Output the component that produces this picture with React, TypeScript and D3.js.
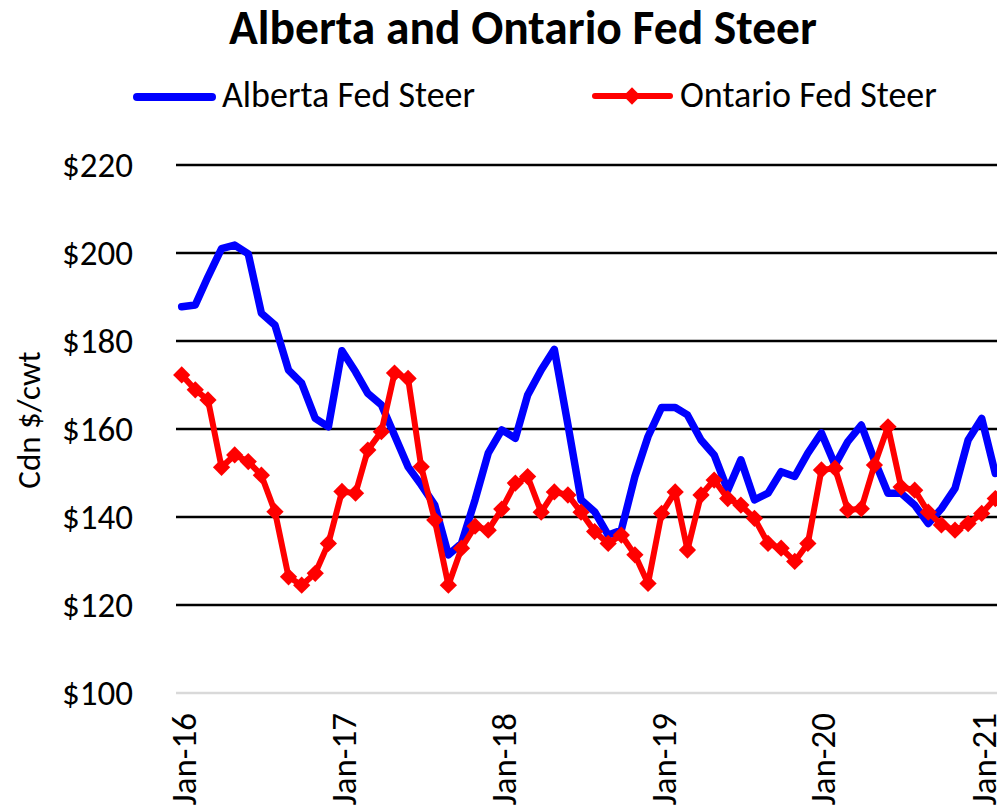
import React, { useEffect, useRef } from 'react';
import * as d3 from 'd3';

// monthly, Jan-16 .. Feb-21
const months: Date[] = d3.timeMonth.range(new Date(2016, 0, 1), new Date(2021, 2, 1));

const albertaFedSteer: number[] = [
    187.8, 188.2, 194.6, 201.0, 201.8, 199.8, 186.3, 183.6, 173.4, 170.4, 162.4, 160.5,
    177.8, 173.0, 168.1, 165.5, 158.6, 151.4, 147.3, 142.7, 131.4, 134.0, 143.9, 154.5,
    159.8, 157.9, 167.7, 173.4, 178.1, 161.0, 143.9, 141.2, 135.9, 137.0, 149.2, 158.3,
    164.9, 164.9, 163.2, 157.5, 154.1, 146.1, 153.0, 143.9, 145.4, 150.3, 149.2, 154.5,
    159.1, 151.8, 157.1, 160.9, 152.9, 145.4, 145.4, 142.7, 138.5, 141.9, 146.5, 157.5,
    162.4, 149.9,
];

const ontarioFedSteer: number[] = [
    172.3, 168.9, 166.6, 151.3, 154.1, 152.6, 149.5, 141.2, 126.4, 124.5, 127.2, 134.0,
    145.8, 145.4, 155.2, 159.4, 172.7, 171.5, 151.4, 139.3, 124.5, 132.9, 137.9, 137.0,
    141.8, 147.7, 149.2, 141.1, 145.7, 145.0, 141.1, 136.7, 134.0, 135.9, 131.4, 124.9,
    140.8, 145.7, 132.5, 145.0, 148.4, 144.2, 142.7, 139.7, 134.0, 132.9, 129.9, 134.0,
    150.7, 151.1, 141.6, 141.9, 151.8, 160.5, 146.8, 146.1, 141.1, 138.2, 137.0, 138.5,
    140.8, 144.2,
];

const yTicks: number[] = [100, 120, 140, 160, 180, 200, 220];
const xTicks: Date[] = [2016, 2017, 2018, 2019, 2020, 2021].map((yr) => new Date(yr, 0, 1));

const FONT = "Carlito, Calibri, 'Open Sans', sans-serif";

const App: React.FC = () => {
    const svgRef = useRef<SVGSVGElement>(null);

    useEffect(() => {
        if (!svgRef.current) return;
        const width = 997;
        const height = 809;
        const left = 176;

        const svg = d3.select(svgRef.current);
        svg.selectAll('*').remove();

        const x = d3.scaleTime()
            .domain([new Date(2016, 0, 1), new Date(2021, 0, 1)])
            .range([181.7, 981.7]);
        const y = d3.scaleLinear().domain([100, 220]).range([693, 165]);

        // title
        svg.append('text')
            .attr('x', 523)
            .attr('y', 44)
            .attr('text-anchor', 'middle')
            .style('font-family', FONT)
            .style('font-size', '47.5px')
            .style('font-weight', '700')
            .text('Alberta and Ontario Fed Steer');

        // gridlines
        svg.append('g')
            .selectAll('line')
            .data(yTicks)
            .enter()
            .append('line')
            .attr('x1', left)
            .attr('x2', width)
            .attr('y1', (d) => y(d))
            .attr('y2', (d) => y(d))
            .style('stroke', (d) => (d === 100 ? '#d9d9d9' : '#000'))
            .style('stroke-width', 2.5);

        // y labels
        svg.append('g')
            .selectAll('text')
            .data(yTicks)
            .enter()
            .append('text')
            .attr('x', 133)
            .attr('y', (d) => y(d))
            .attr('dy', '0.34em')
            .attr('text-anchor', 'end')
            .style('font-family', FONT)
            .style('font-size', '35px')
            .text((d) => `$${d}`);

        svg.append('text')
            .attr('transform', 'translate(40, 420) rotate(-90)')
            .attr('text-anchor', 'middle')
            .style('font-family', FONT)
            .style('font-size', '33px')
            .text('Cdn $/cwt');

        // x labels
        const fmt = d3.timeFormat('%b-%y');
        svg.append('g')
            .selectAll('text')
            .data(xTicks)
            .enter()
            .append('text')
            .attr('transform', (d) => `translate(${x(d) + 2}, 713) rotate(-90)`)
            .attr('dy', '0.34em')
            .attr('text-anchor', 'end')
            .style('font-family', FONT)
            .style('font-size', '35px')
            .text((d) => fmt(d));

        const line = d3.line<number>()
            .x((_d, i) => x(months[i]))
            .y((d) => y(d));

        svg.append('path')
            .datum(albertaFedSteer)
            .attr('d', line)
            .style('fill', 'none')
            .style('stroke', '#0000ff')
            .style('stroke-width', 7.5)
            .style('stroke-linejoin', 'round')
            .style('stroke-linecap', 'round');

        svg.append('path')
            .datum(ontarioFedSteer)
            .attr('d', line)
            .style('fill', 'none')
            .style('stroke', '#ff0000')
            .style('stroke-width', 6)
            .style('stroke-linejoin', 'round');

        const diamond = d3.symbol().type(d3.symbolDiamond2).size(190);
        svg.append('g')
            .selectAll('path')
            .data(ontarioFedSteer)
            .enter()
            .append('path')
            .attr('d', diamond)
            .attr('transform', (d, i) => `translate(${x(months[i])}, ${y(d)})`)
            .style('fill', '#ff0000');

        // legend
        svg.append('line')
            .attr('x1', 137).attr('x2', 212)
            .attr('y1', 97).attr('y2', 97)
            .style('stroke', '#0000ff')
            .style('stroke-width', 8)
            .style('stroke-linecap', 'round');
        svg.append('text')
            .attr('x', 222).attr('y', 107)
            .style('font-family', FONT)
            .style('font-size', '36px')
            .text('Alberta Fed Steer');

        svg.append('line')
            .attr('x1', 595).attr('x2', 670)
            .attr('y1', 96).attr('y2', 96)
            .style('stroke', '#ff0000')
            .style('stroke-width', 6)
            .style('stroke-linecap', 'round');
        svg.append('path')
            .attr('d', diamond)
            .attr('transform', 'translate(632, 96)')
            .style('fill', '#ff0000');
        svg.append('text')
            .attr('x', 680).attr('y', 107)
            .style('font-family', FONT)
            .style('font-size', '36px')
            .text('Ontario Fed Steer');

        svg.attr('width', width).attr('height', height);
    }, []);

    return (
        <svg
            ref={svgRef}
            width={997}
            height={809}
            style={{ position: 'absolute', left: 0, top: 0, display: 'block', background: '#fff' }}
        />
    );
};

export default App;
